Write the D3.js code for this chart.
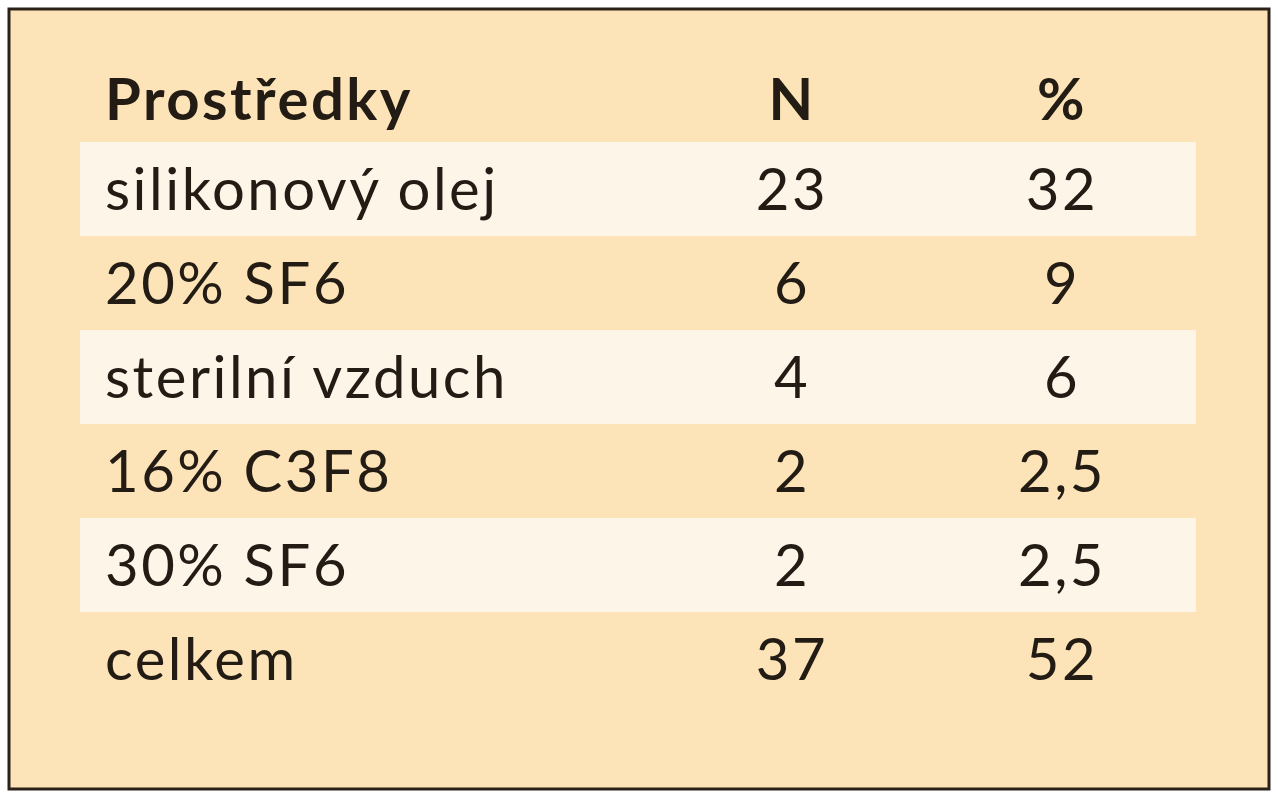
<!DOCTYPE html>
<html><head><meta charset="utf-8">
<script src="https://cdn.jsdelivr.net/npm/d3@7"></script>
<style>body{margin:0;background:#fff}</style>
</head><body>
<svg id="chart" width="1278" height="800"></svg>
<script>
var headers = ["Prostředky", "N", "%"];
var labels  = ["silikonový olej", "20% SF6", "sterilní vzduch", "16% C3F8", "30% SF6", "celkem"];
var counts  = ["23", "6", "4", "2", "2", "37"];
var pcts    = ["32", "9", "6", "2,5", "2,5", "52"];

var svg = d3.select("#chart");
svg.append("rect").attr("x", 9).attr("y", 9).attr("width", 1260).attr("height", 780)
    .attr("fill", "#fde4b8").attr("stroke", "#2a2218").attr("stroke-width", 3);

var y = d3.scaleBand().domain(d3.range(labels.length)).range([142, 706]).padding(0);
var rows = svg.selectAll(".row").data(labels).enter().append("g").attr("class", "row");

rows.filter((d, i) => i % 2 == 0).append("rect")
    .attr("x", 80).attr("width", 1116)
    .attr("y", (d, i) => y(labels.indexOf(d)))
    .attr("height", y.bandwidth())
    .attr("fill", "#fef5e9");

var font = "Lato, 'Open Sans', sans-serif";
function txt(sel, x, anchor){
    return sel.attr("x", x).attr("text-anchor", anchor)
        .attr("font-family", font).attr("font-size", 58).attr("letter-spacing", 2.5)
        .attr("fill", "#231c14");
}
txt(svg.append("text"), 105, "start").attr("y", 120).attr("font-weight", "bold").text(headers[0]);
txt(svg.append("text"), 792, "middle").attr("y", 120).attr("font-weight", "bold").text(headers[1]);
txt(svg.append("text"), 1062, "middle").attr("y", 120).attr("font-weight", "bold").text(headers[2]);

labels.forEach((d, i) => {
    var cy = y(i) + y.bandwidth() / 2 + 21;
    txt(svg.append("text"), 105, "start").attr("y", cy).text(d);
    txt(svg.append("text"), 792, "middle").attr("y", cy).text(counts[i]);
    txt(svg.append("text"), 1062, "middle").attr("y", cy).text(pcts[i]);
});
</script>
</body></html>
